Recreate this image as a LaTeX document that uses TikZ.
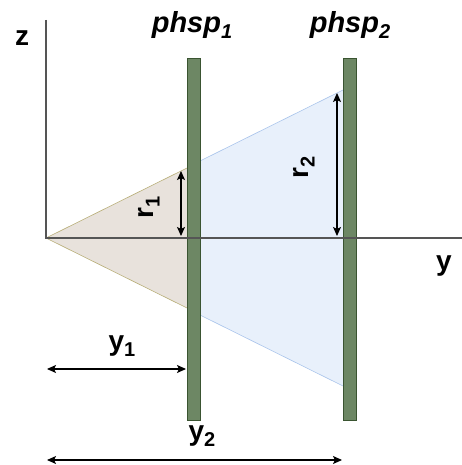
\documentclass[tikz,border=0pt]{standalone}
\usepackage{fontspec}
\setmainfont{Liberation Sans}
\usetikzlibrary{arrows.meta}
\definecolor{plategreen}{HTML}{6D8764}
\definecolor{platestroke}{HTML}{3A5431}
\definecolor{conebrown}{HTML}{E8E2DC}
\definecolor{coneedge}{HTML}{B8AE78}
\definecolor{beamblue}{HTML}{E8F0FB}
\definecolor{beamedge}{HTML}{A9C4EB}
\definecolor{axisgray}{HTML}{555555}
\newcommand{\mysub}[1]{\raisebox{-0.22em}{\fontsize{20}{22}\selectfont #1}}
\tikzset{
  plate/.style={draw=platestroke, line width=0.6pt, fill=plategreen, minimum width=13pt, minimum height=362pt, inner sep=0pt},
  lbl/.style={font=\fontsize{28}{32}\selectfont\bfseries, inner sep=0pt},
  phsplbl/.style={font=\fontsize{29}{32}\selectfont\bfseries\itshape, inner sep=0pt},
  axis/.style={draw=axisgray, line width=1.2pt},
  dim/.style={draw=black, line width=1.1pt, {Stealth[length=9pt,width=8pt,inset=2pt]}-{Stealth[length=9pt,width=8pt,inset=2pt]}}
}
\begin{document}
\begin{tikzpicture}[x=1pt,y=-1pt]
\useasboundingbox (0,0) rectangle (462,465);
% key points
\coordinate (O) at (46,238);
\coordinate (t1) at (187,168);
\coordinate (b1) at (187,308);
\coordinate (t1r) at (200,161);
\coordinate (b1r) at (200,315);
\coordinate (t2) at (343,90);
\coordinate (b2) at (343,386);
% cone regions
\fill[conebrown] (O) -- (t1) -- (b1) -- cycle;
\draw[coneedge, line width=0.6pt] (t1) -- (O) -- (b1);
\fill[beamblue] (t1r) -- (t2) -- (b2) -- (b1r) -- cycle;
\draw[beamedge, line width=0.6pt] (t1r) -- (t2);
\draw[beamedge, line width=0.6pt] (b1r) -- (b2);
\draw[coneedge!70!yellow, line width=0.6pt] (t1r) -- (b1r);
% plates
\node[plate] (p1) at (193.5,239) {};
\node[plate] (p2) at (349.5,239) {};
% axes
\coordinate (ztop) at (46,20);
\coordinate (yend) at (462,238);
\draw[axis] (ztop) -- (O) -- (yend);
% labels
\node[lbl] (zl) at (22,38) {z};
\node[lbl] (yl) at (444,266) {y};
\node[phsplbl] (ph1) at (192,25) {phsp\mysub{1}};
\node[phsplbl] (ph2) at (350,25) {phsp\mysub{2}};
% r dimensions
\coordinate (r1t) at (181,171);
\coordinate (r1b) at (181,236);
\draw[dim] (r1t) -- (r1b);
\node[lbl, rotate=90] (r1l) at (149,207) {r\mysub{1}};
\coordinate (r2t) at (337,93);
\coordinate (r2b) at (337,236);
\draw[dim] (r2t) -- (r2b);
\node[lbl, rotate=90] (r2l) at (304,167) {r\mysub{2}};
% y dimensions
\coordinate (y1l) at (47,369);
\coordinate (y1r) at (186,369);
\draw[dim] (y1l) -- (y1r);
\node[lbl] (y1lab) at (122,346) {y\mysub{1}};
\coordinate (y2l) at (47,460);
\coordinate (y2r) at (342,460);
\draw[dim] (y2l) -- (y2r);
\node[lbl] (y2lab) at (202,436) {y\mysub{2}};
\end{tikzpicture}
\end{document}
